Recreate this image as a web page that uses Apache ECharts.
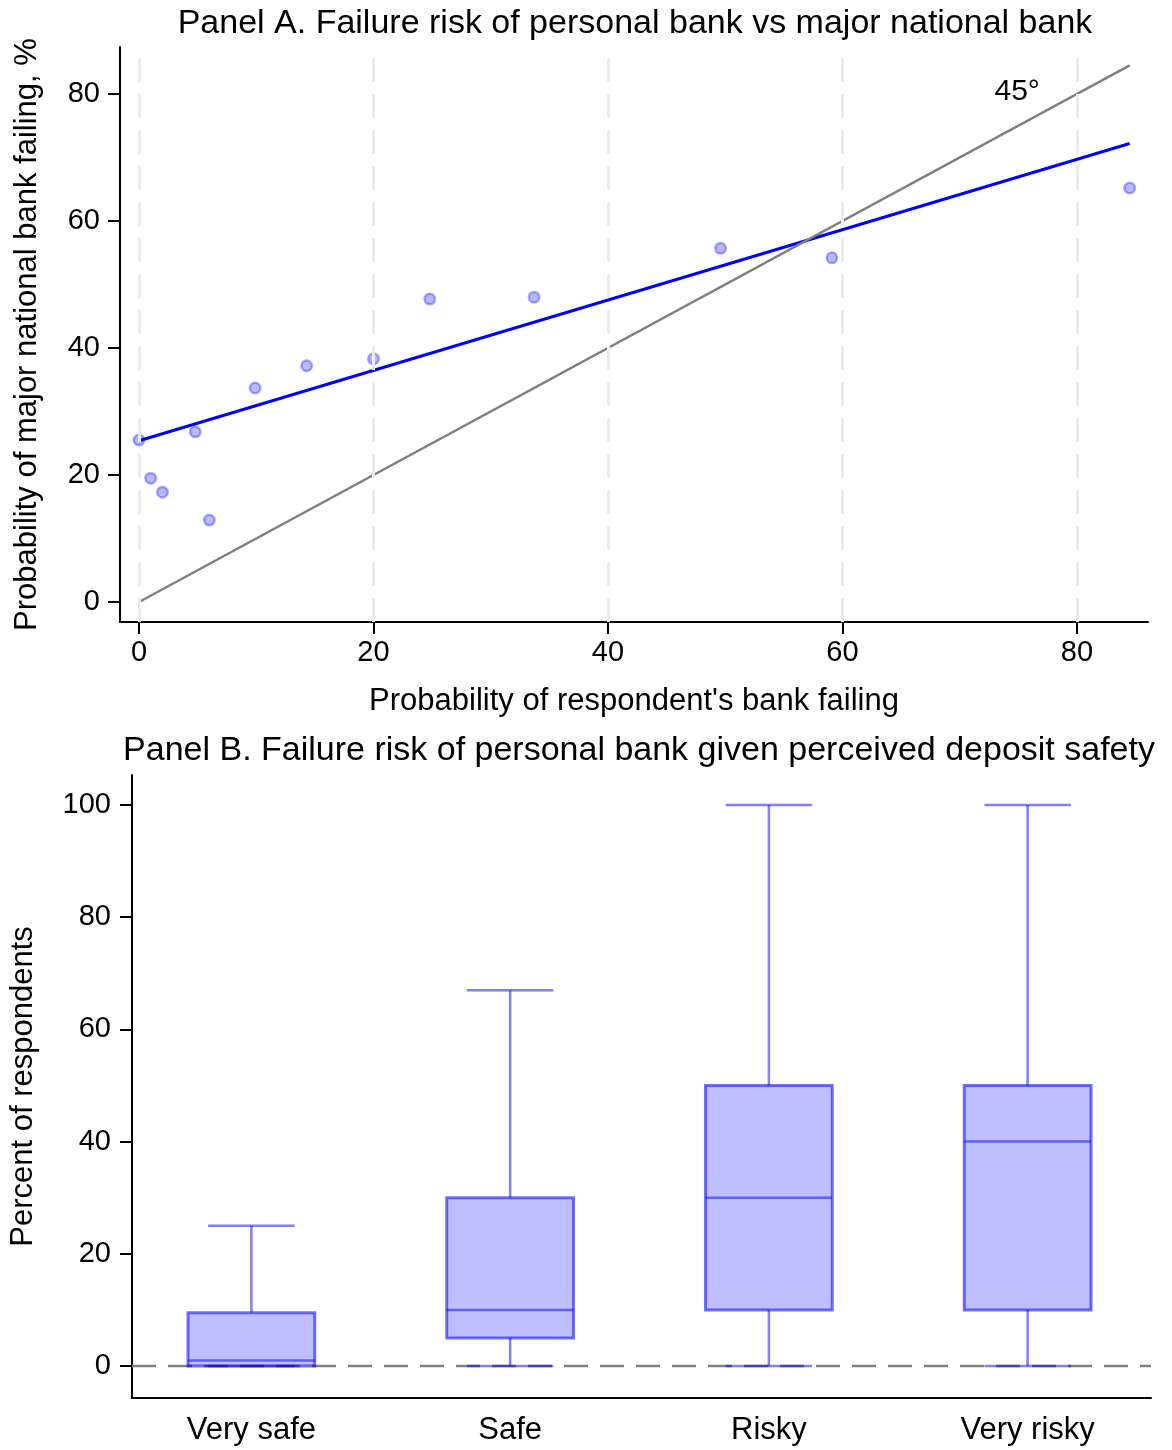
<!DOCTYPE html>
<html><head><meta charset="utf-8">
<script src="https://cdn.jsdelivr.net/npm/echarts@6/dist/echarts.min.js"></script>
<style>html,body{margin:0;padding:0;background:#fff}#c{width:1172px;height:1450px}</style>
</head><body><div id="c"></div>
<script>
// ---------- Panel A data ----------
const binX = [0, 1, 2, 4.8, 6, 9.9, 14.3, 20, 24.8, 33.7, 49.6, 59.1, 84.5];
const binY = [25.5, 19.5, 17.3, 26.8, 12.9, 33.7, 37.2, 38.3, 47.7, 48.0, 55.7, 54.2, 65.2];
const fitX = [0, 84.5];
const fitY = [25.4, 72.2];
const diagX = [0, 84.5];
const diagY = [0, 84.5];
const label45Pos = [74.9, 80.3];
const label45Text = '45°';
const ticksA = [0, 20, 40, 60, 80];

// ---------- Panel B data ----------
const categories = ['Very safe', 'Safe', 'Risky', 'Very risky'];
const whiskerLow = [0, 0, 0, 0];
const q1 = [0, 5, 10, 10];
const median = [1, 10, 30, 40];
const q3 = [9.5, 30, 50, 50];
const whiskerHigh = [25, 67, 100, 100];
const ticksB = [0, 20, 40, 60, 80, 100];
const zeroLineX = [0, 1];
const zeroLineY = [0, 0];

const FONT = "'Liberation Sans', Arial, Helvetica, sans-serif";
const txt = { color: '#000', fontFamily: FONT };
const axisLineStyle = { show: true, onZero: false, lineStyle: { color: '#000', width: 2 } };

const scatterData = binX.map((x, i) => [x, binY[i]]);
const fitData = fitX.map((x, i) => [x, fitY[i]]);
const diagData = diagX.map((x, i) => [x, diagY[i]]);
const boxData = categories.map((c, i) => [i, whiskerLow[i], q1[i], median[i], q3[i], whiskerHigh[i]]);
const zeroData = zeroLineX.map((x, i) => [x, zeroLineY[i]]);

function renderBox(params, api) {
  const i = api.value(0);
  const band = api.size([1, 0])[0];
  const hw = band * 0.245, cw = band * 0.167;
  const pMin = api.coord([i, api.value(1)]);
  const cx = pMin[0], yMin = pMin[1];
  const yQ1 = api.coord([i, api.value(2)])[1];
  const yMed = api.coord([i, api.value(3)])[1];
  const yQ3 = api.coord([i, api.value(4)])[1];
  const yMax = api.coord([i, api.value(5)])[1];
  const ls = { stroke: 'rgba(0,0,255,0.5)', lineWidth: 2.5, fill: null };
  return {
    type: 'group',
    children: [
      { type: 'line', shape: { x1: cx, y1: yQ3, x2: cx, y2: yMax }, style: ls },
      { type: 'line', shape: { x1: cx, y1: yMin, x2: cx, y2: yQ1 }, style: ls },
      { type: 'line', shape: { x1: cx - cw, y1: yMax, x2: cx + cw, y2: yMax }, style: ls },
      { type: 'line', shape: { x1: cx - cw, y1: yMin, x2: cx + cw, y2: yMin }, style: ls },
      { type: 'rect', shape: { x: cx - hw, y: yQ3, width: 2 * hw, height: yQ1 - yQ3 },
        style: { fill: 'rgba(0,0,255,0.25)', stroke: 'rgba(0,0,255,0.55)', lineWidth: 3 } },
      { type: 'line', shape: { x1: cx - hw, y1: yMed, x2: cx + hw, y2: yMed }, style: ls }
    ]
  };
}

const chart = echarts.init(document.getElementById('c'), null, { renderer: 'canvas' });
chart.setOption({
  animation: false,
  backgroundColor: '#fff',
  title: [
    { text: 'Panel A. Failure risk of personal bank vs major national bank',
      left: 635, top: 7, textAlign: 'center', padding: 0,
      textStyle: Object.assign({ fontSize: 34, fontWeight: 'normal' }, txt) },
    { text: 'Panel B. Failure risk of personal bank given perceived deposit safety',
      left: 639, top: 734, textAlign: 'center', padding: 0,
      textStyle: Object.assign({ fontSize: 34, fontWeight: 'normal' }, txt) }
  ],
  grid: [
    { left: 120, right: 24, top: 47, bottom: 828 },
    { left: 129, right: 21, top: 775, bottom: 52 },
    { left: 122, right: 15, top: 775, bottom: 52 }
  ],
  xAxis: [
    { gridIndex: 0, type: 'value', min: -1.62, max: 86.06,
      axisLine: axisLineStyle,
      axisTick: { show: true, customValues: ticksA, length: 12, lineStyle: { color: '#000', width: 2 } },
      axisLabel: Object.assign({ customValues: ticksA, margin: 16, fontSize: 29 }, txt),
      splitLine: { show: false },
      name: "Probability of respondent's bank failing", nameLocation: 'middle', nameGap: 64,
      nameTextStyle: Object.assign({ fontSize: 31 }, txt) },
    { gridIndex: 1, type: 'value', min: 0, max: 1,
      axisLine: axisLineStyle, axisTick: { show: false }, axisLabel: { show: false }, splitLine: { show: false } },
    { gridIndex: 2, type: 'category', data: categories,
      axisLine: { show: false }, axisTick: { show: false },
      axisLabel: Object.assign({ margin: 17, fontSize: 31 }, txt), splitLine: { show: false } }
  ],
  yAxis: [
    { gridIndex: 0, type: 'value', min: -3.15, max: 87.4,
      axisLine: axisLineStyle,
      axisTick: { show: true, customValues: ticksA, length: 12, lineStyle: { color: '#000', width: 2 } },
      axisLabel: Object.assign({ customValues: ticksA, margin: 20, fontSize: 29 }, txt),
      splitLine: { show: false },
      name: 'Probability of major national bank failing, %', nameLocation: 'middle', nameGap: 77,
      nameTextStyle: Object.assign({ fontSize: 31 }, txt) },
    { gridIndex: 1, type: 'value', min: -5.70, max: 105.35,
      axisLine: axisLineStyle,
      axisTick: { show: true, customValues: ticksB, length: 12, lineStyle: { color: '#000', width: 2 } },
      axisLabel: Object.assign({ customValues: ticksB, margin: 21, fontSize: 29 }, txt),
      splitLine: { show: false },
      name: 'Percent of respondents', nameLocation: 'middle', nameGap: 93,
      nameTextStyle: Object.assign({ fontSize: 31 }, txt) },
    { gridIndex: 2, type: 'value', min: -5.70, max: 105.35, show: false, splitLine: { show: false } }
  ],
  series: [
    { type: 'line', xAxisIndex: 0, yAxisIndex: 0, data: [], z: 1, silent: true,
      markLine: { silent: true, symbol: ['none', 'none'], label: { show: false },
        lineStyle: { color: '#ebebeb', width: 3, type: [24, 12] },
        data: ticksA.map(v => ({ xAxis: v })) } },
    { type: 'scatter', xAxisIndex: 0, yAxisIndex: 0, data: scatterData, symbolSize: 10.5, z: 2,
      itemStyle: { color: 'rgba(0,0,255,0.27)', borderColor: 'rgba(0,0,255,0.33)', borderWidth: 2.5, opacity: 1 } },
    { type: 'line', xAxisIndex: 0, yAxisIndex: 0, data: fitData, symbol: 'none', z: 3,
      lineStyle: { color: '#0000ff', width: 3 } },
    { type: 'line', xAxisIndex: 0, yAxisIndex: 0, data: diagData, symbol: 'none', z: 4,
      lineStyle: { color: '#808080', width: 2.5 } },
    { type: 'scatter', xAxisIndex: 0, yAxisIndex: 0, data: [label45Pos], symbolSize: 1, z: 5,
      itemStyle: { color: 'rgba(0,0,0,0)', opacity: 1 },
      label: Object.assign({ show: true, position: 'inside', formatter: label45Text, fontSize: 30, opacity: 1 }, txt) },
    { type: 'line', xAxisIndex: 1, yAxisIndex: 1, data: zeroData, symbol: 'none', z: 1,
      lineStyle: { color: '#808080', width: 2.5, type: [24, 12] } },
    { type: 'custom', xAxisIndex: 2, yAxisIndex: 2, data: boxData, renderItem: renderBox, z: 3,
      encode: { x: 0, y: [1, 2, 3, 4, 5] } }
  ]
});
</script>
</body></html>
